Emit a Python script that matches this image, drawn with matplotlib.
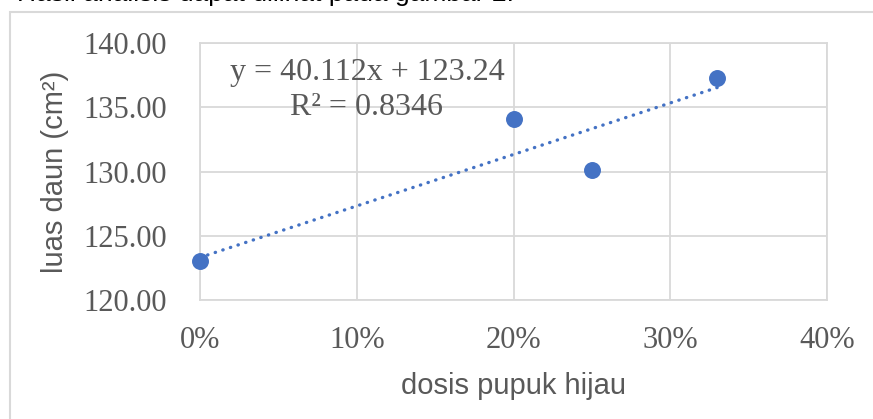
import numpy as np
import matplotlib
matplotlib.use("Agg")
from matplotlib import pyplot as plt
from matplotlib.patches import Rectangle

# data
dosis = [0.0, 0.20, 0.25, 0.33]
luas = [123.0, 134.1, 130.1, 137.3]
x_ticks = [0.0, 0.1, 0.2, 0.3, 0.4]
y_ticks = [120, 125, 130, 135, 140]
eq_text = "y = 40.112x + 123.24\nR² = 0.8346"

blue = "#4472C4"
grid = "#D9D9D9"
txt = "#595959"
W, H = 873, 419

fig = plt.figure(figsize=(W / 100, H / 100), dpi=100)
ax = fig.add_axes([200 / W, 1 - 300 / H, 627 / W, 257 / H])

# outer chart frame (partly cut by the image edge)
fig.patches.append(Rectangle((9.5 / W, -0.2), 1.0, 1 - 12 / H + 0.2, transform=fig.transFigure,
                             fill=False, edgecolor=grid, linewidth=1.5))
# caption line cut off above the chart, as in the source page
fig.text(17 / W, 1 - 1.5 / H, "Hasil analisis dapat dilihat pada gambar 2.", fontsize=19,
         family="Liberation Sans", color="black", va="baseline")

# trendline
k, b = np.polyfit(dosis, luas, 1)
xs = np.array([min(dosis), max(dosis)])
ax.plot(xs, k * xs + b, color=blue, linewidth=2.4, linestyle=(0, (0.1, 2.3)),
        dash_capstyle="round", zorder=3)
ax.scatter(dosis, luas, s=125, color=blue, zorder=4, clip_on=False)

ax.set_xlim(0, 0.4)
ax.set_ylim(120, 140)
ax.set_xticks(x_ticks)
ax.set_yticks(y_ticks)
ax.set_xticklabels(["{:.0%}".format(v) for v in x_ticks])
ax.set_yticklabels(["{:.2f}".format(v) for v in y_ticks])
for lab in ax.get_xticklabels() + ax.get_yticklabels():
    lab.set_family("Liberation Serif")
    lab.set_fontsize(22)
    lab.set_color(txt)
ax.tick_params(axis="both", length=0)
ax.tick_params(axis="x", pad=19)
ax.tick_params(axis="y", pad=24)
ax.grid(True, color=grid, linewidth=1.3)
ax.set_axisbelow(True)
for s in ax.spines.values():
    s.set_color(grid)
    s.set_linewidth(1.3)

ax.set_xlabel("dosis pupuk hijau", fontsize=21, family="Liberation Sans", color=txt, labelpad=12)
ax.set_ylabel("luas daun (cm²)", fontsize=21, family="Liberation Sans", color=txt, labelpad=10)

ax.text(367 / W, 1 - 90 / H, eq_text, transform=fig.transFigure, ha="center", va="center",
        fontsize=23, family="Liberation Serif", color=txt, linespacing=1.25)

fig.savefig("out.png", dpi=100)
